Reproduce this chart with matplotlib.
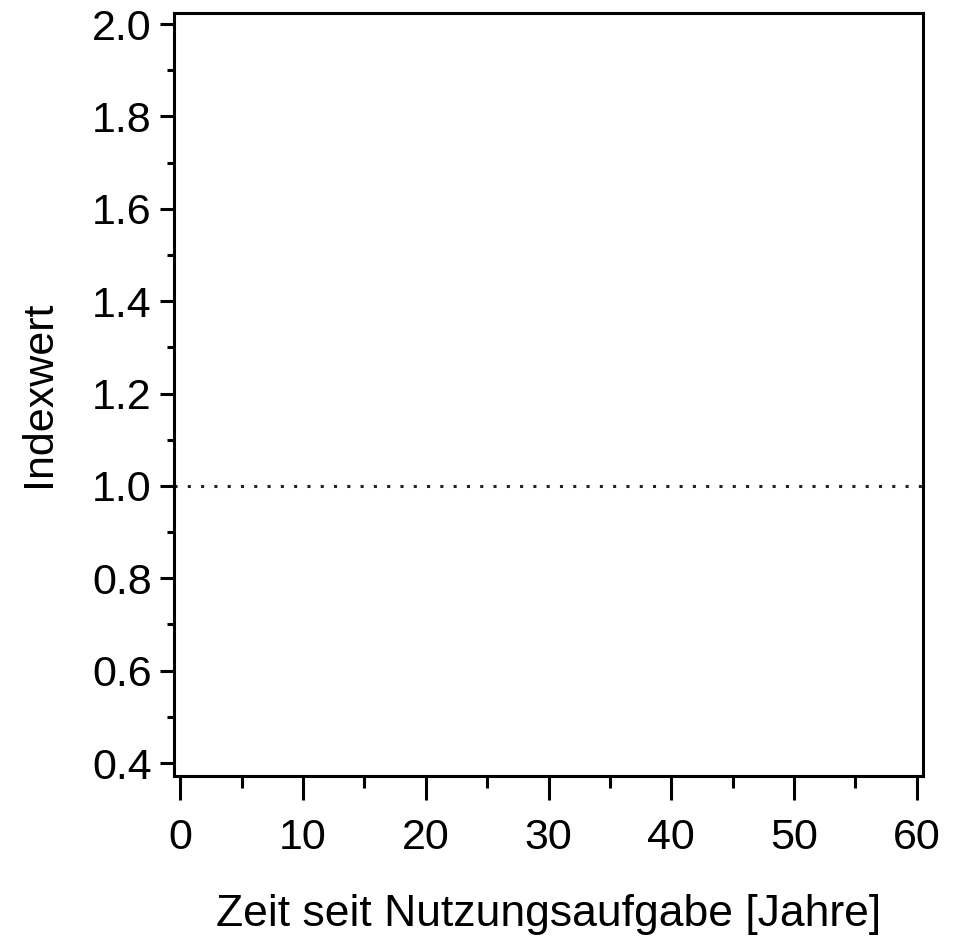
import numpy as np
import matplotlib.pyplot as plt
from matplotlib.ticker import MultipleLocator

plt.rcParams['font.family'] = ['Liberation Sans', 'DejaVu Sans']

x_ticks = [0, 10, 20, 30, 40, 50, 60]
y_ticks = [0.4, 0.6, 0.8, 1.0, 1.2, 1.4, 1.6, 1.8, 2.0]
reference_level = 1.0

fig = plt.figure(figsize=(9.58, 9.4), dpi=100)
ax = fig.add_axes([0.1816, 0.1745, 0.7819, 0.8122])

# dotted reference line at index 1
ax.axhline(reference_level, color='#222222', linestyle=(0, (1, 3.35)), linewidth=2.2)

ax.set_xlim(-0.5, 60.5)
ax.set_ylim(0.372, 2.025)
ax.set_xticks(x_ticks)
ax.set_yticks(y_ticks)
ax.set_yticklabels([f'{v:.1f}' for v in y_ticks])
ax.xaxis.set_minor_locator(MultipleLocator(5))
ax.yaxis.set_minor_locator(MultipleLocator(0.1))

for s in ax.spines.values():
    s.set_linewidth(2.2)
ax.tick_params(axis='x', which='major', length=17, width=2.2, labelsize=31, pad=13)
ax.tick_params(axis='x', which='minor', length=8.5, width=2.2)
ax.tick_params(axis='y', which='major', length=10, width=2.2, labelsize=31, pad=6)
ax.tick_params(axis='y', which='minor', length=5, width=2.2)

ax.set_xlabel('Zeit seit Nutzungsaufgabe [Jahre]', fontsize=32, labelpad=26)
ax.set_ylabel('Indexwert', fontsize=31, labelpad=24)

fig.savefig('out.png', dpi=100)
